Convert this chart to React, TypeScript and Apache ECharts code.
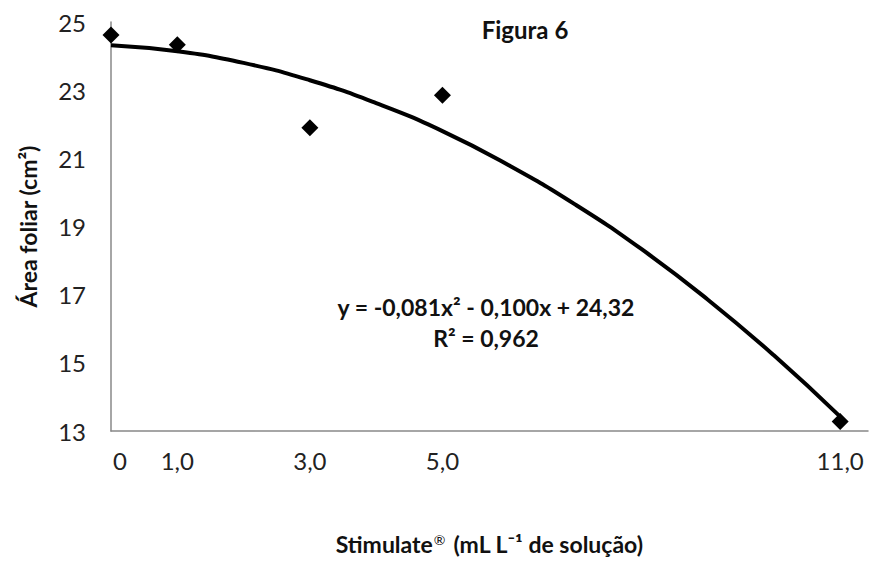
import React, { useEffect, useRef } from "react";
import * as echarts from "echarts";

const doses = [0, 1, 3, 5, 11];
const areaFoliar = [24.62, 24.33, 21.9, 22.85, 13.28];
const tickValuesX = [0, 1, 3, 5, 11];
const tickLabelsX = ["0", "1,0", "3,0", "5,0", "11,0"];
// trend line at each unit of x
const trendX = [0, 1, 2, 3, 4, 5, 6, 7, 8, 9, 10, 11];
const trendY = [24.32, 24.14, 23.8, 23.29, 22.62, 21.8, 20.8, 19.65, 18.34, 16.86, 15.22, 13.42];

const FONT = "Lato, 'Open Sans', sans-serif";

export default function App() {
  const ref = useRef<HTMLDivElement>(null);
  useEffect(() => {
    document.body.style.margin = "0";
    if (!ref.current) return;
    const chart = echarts.init(ref.current, undefined, { renderer: "svg" });
    chart.setOption({
      animation: false,
      backgroundColor: "#ffffff",
      textStyle: { fontFamily: FONT },
      title: {
        text: "Figura 6",
        left: 520,
        top: 12,
        textAlign: "center",
        textStyle: { fontFamily: FONT, fontSize: 24, fontWeight: "bold", color: "#111" },
      },
      grid: { left: 111, right: 3, top: 22, bottom: 131 },
      xAxis: {
        type: "value",
        min: 0,
        max: 11.42,
        name: "Stimulate{sup|®} (mL L⁻¹ de solução)",
        nameLocation: "middle",
        nameGap: 101,
        nameTextStyle: {
          fontFamily: FONT,
          fontSize: 23,
          fontWeight: "bold",
          color: "#111",
          rich: {
            sup: {
              fontFamily: FONT,
              fontSize: 14,
              fontWeight: "normal",
              color: "#111",
              padding: [0, 2, 10, 1],
            },
          },
        },
        axisLine: { show: true, lineStyle: { color: "#888", width: 1.5 } },
        axisTick: { show: false },
        splitLine: { show: false },
        axisLabel: {
          customValues: tickValuesX,
          formatter: (v: number) => {
            const t = tickLabelsX[tickValuesX.indexOf(v)] ?? "";
            return v === 0 ? "{z|" + t + "}" : t;
          },
          margin: 17,
          fontFamily: FONT,
          fontSize: 24,
          color: "#222",
          rich: {
            z: { fontFamily: FONT, fontSize: 24, color: "#222", padding: [0, 0, 0, 18] },
          },
        },
      },
      yAxis: {
        type: "value",
        min: 13,
        max: 25,
        interval: 2,
        name: "Área foliar (cm²)",
        nameLocation: "middle",
        nameGap: 72,
        nameTextStyle: { fontFamily: FONT, fontSize: 23, fontWeight: "bold", color: "#111" },
        axisLine: { show: true, lineStyle: { color: "#888", width: 1.5 } },
        axisTick: { show: false },
        splitLine: { show: false },
        axisLabel: { margin: 25, fontFamily: FONT, fontSize: 24, color: "#222" },
      },
      graphic: [
        {
          type: "text",
          x: 486,
          y: 307,
          style: {
            text: "y = -0,081x² - 0,100x + 24,32",
            fontFamily: FONT,
            fontSize: 23,
            fontWeight: "bold",
            fill: "#111",
            textAlign: "center",
            textVerticalAlign: "middle",
          },
        },
        {
          type: "text",
          x: 486,
          y: 338,
          style: {
            text: "R² = 0,962",
            fontFamily: FONT,
            fontSize: 23,
            fontWeight: "bold",
            fill: "#111",
            textAlign: "center",
            textVerticalAlign: "middle",
          },
        },
      ],
      series: [
        {
          type: "line",
          data: trendX.map((x, i) => [x, trendY[i]]),
          smooth: true,
          symbol: "none",
          lineStyle: { color: "#000", width: 4 },
          z: 2,
        },
        {
          type: "scatter",
          data: doses.map((x, i) => [x, areaFoliar[i]]),
          symbol: "diamond",
          symbolSize: 17,
          itemStyle: { color: "#000", opacity: 1 },
          z: 3,
        },
      ],
    });
    return () => chart.dispose();
  }, []);
  return <div ref={ref} style={{ width: 871, height: 562 }} />;
}
